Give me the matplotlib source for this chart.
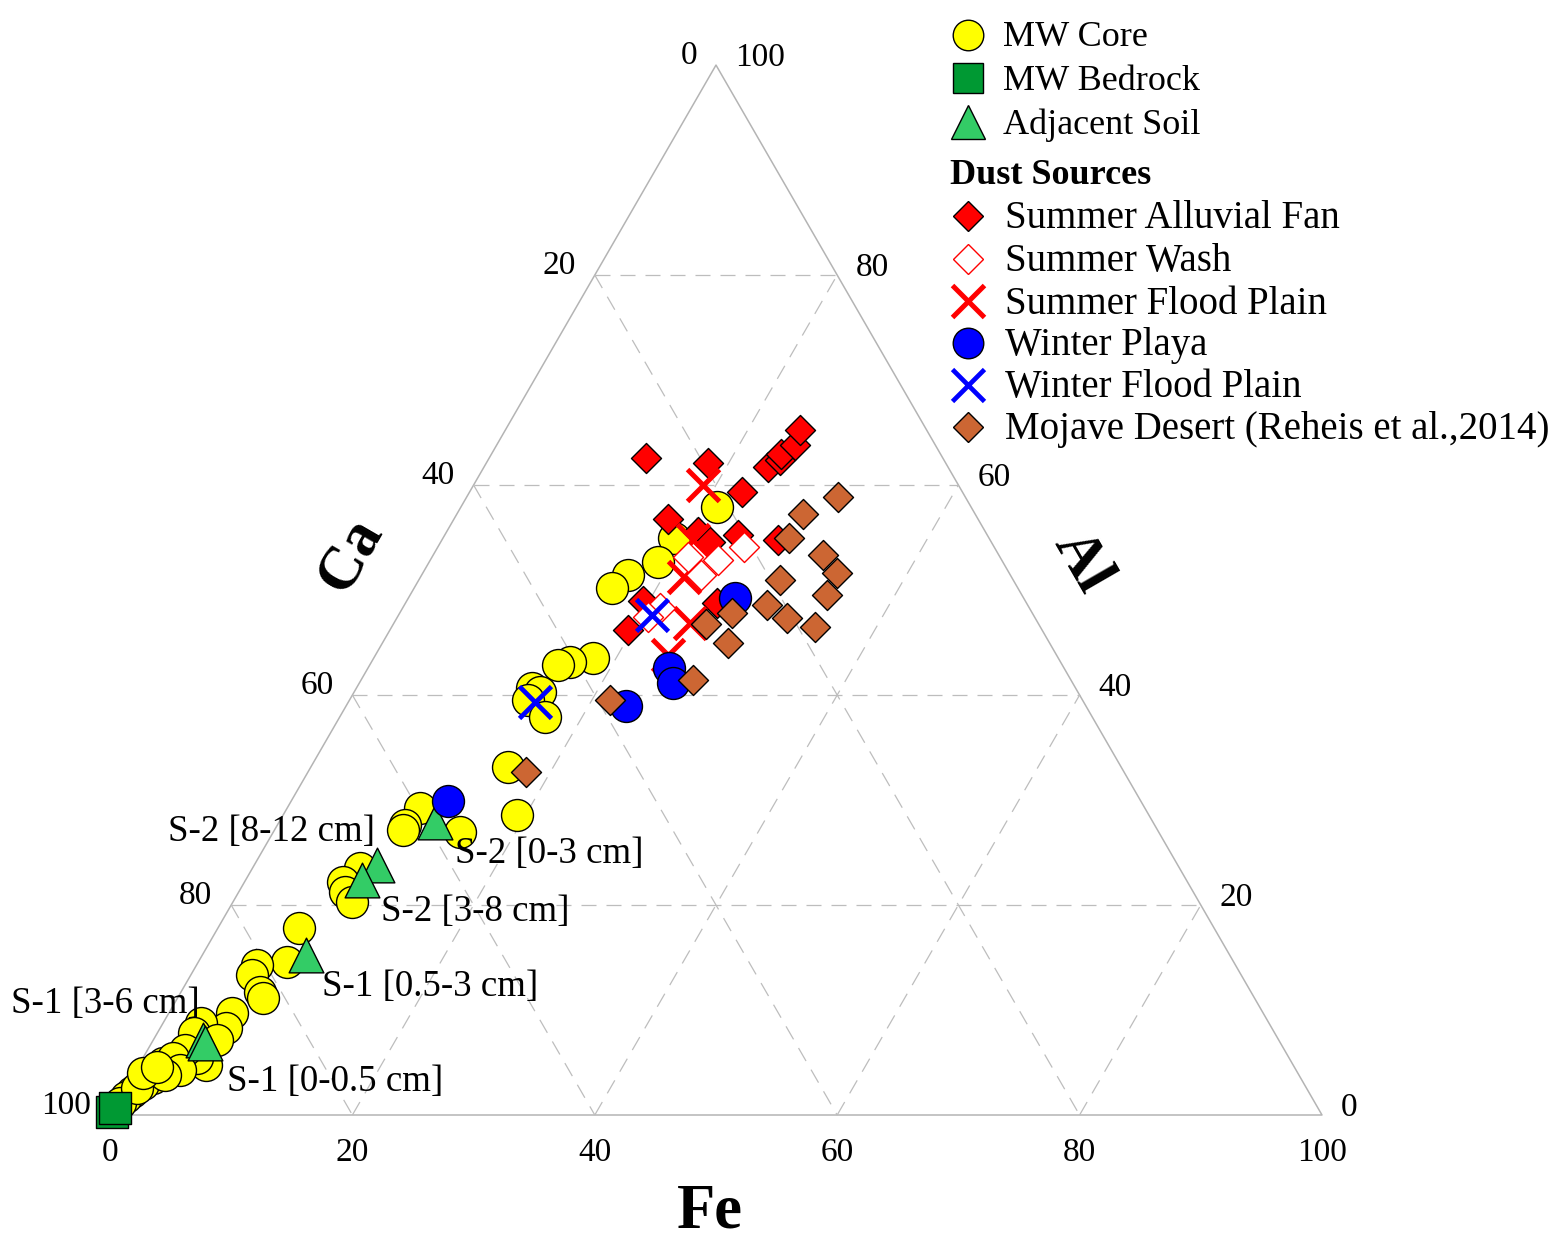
import numpy as np
import matplotlib
matplotlib.use("Agg")
import matplotlib.pyplot as plt

plt.rcParams['font.family'] = ['Liberation Serif', 'DejaVu Serif']

# ---------------- data (Fe, Ca, Al in %) ----------------
core_fe = [21.1, 19.0, 18.9, 17.0, 16.3, 18.1, 16.4, 15.5, 14.5, 15.3, 14.7, 16.9, 16.3, 19.3,
           11.0, 10.5, 10.6, 15.4, 8.9, 8.1, 8.8, 9.8, 6.7, 7.3, 5.0, 5.1, 6.5, 7.1, 5.2, 5.4,
           3.1, 3.0, 5.5, 4.5, 3.1, 1.9, 2.5, 1.8, 1.2, 0.7, 0.5, 5.3, 3.6, 2.6, 0.3, 0.9, 0.7, 1.6]
core_al = [57.9, 55.0, 52.7, 51.4, 50.2, 43.5, 43.1, 42.9, 40.7, 40.3, 39.5, 37.9, 33.1, 28.6,
           29.2, 27.6, 27.1, 27.0, 23.5, 22.2, 21.2, 20.3, 17.8, 14.6, 14.3, 13.3, 11.7, 11.1, 9.7, 8.3,
           8.8, 7.8, 4.8, 5.4, 6.2, 5.0, 5.4, 3.5, 3.0, 2.2, 1.7, 7.1, 4.3, 3.8, 1.1, 2.6, 4.0, 4.6]
core_ca = [21.0, 26.0, 28.4, 31.6, 33.5, 38.4, 40.5, 41.6, 44.8, 44.4, 45.8, 45.2, 50.6, 52.1,
           59.8, 61.9, 62.3, 57.6, 67.6, 69.7, 70.0, 69.9, 75.5, 78.1, 80.7, 81.6, 81.8, 81.8, 85.1, 86.3,
           88.1, 89.2, 89.7, 90.1, 90.7, 93.1, 92.1, 94.7, 95.8, 97.1, 97.8, 87.6, 92.1, 93.6, 98.6, 96.5, 95.3, 93.8]

bedrock_fe = [0.0, 0.1]
bedrock_al = [0.3, 0.7]
bedrock_ca = [99.7, 99.2]

soil_fe = [12.9, 10.1, 9.6, 8.6, 4.1, 4.4]
soil_al = [27.9, 23.8, 22.4, 15.2, 7.1, 6.9]
soil_ca = [59.2, 66.1, 68.0, 76.2, 88.8, 88.7]

fan_fe = [12.9, 18.3, 22.5, 17.6, 23.4, 24.1, 23.9, 24.6, 24.3, 20.8, 22.2, 24.2, 27.7, 19.5, 19.6, 25.7]
fan_al = [62.6, 62.1, 59.3, 56.8, 61.7, 62.4, 63.0, 63.8, 65.2, 55.5, 54.6, 55.2, 54.8, 49.0, 46.2, 48.8]
fan_ca = [24.5, 19.6, 18.2, 25.6, 14.9, 13.5, 13.1, 11.6, 10.5, 23.7, 23.2, 20.6, 17.5, 31.5, 34.2, 25.5]

wash_fe = [25.3, 23.7, 23.1, 21.1, 21.2, 20.7]
wash_al = [54.1, 52.9, 51.4, 53.1, 48.3, 47.4]
wash_ca = [20.6, 23.4, 25.5, 25.8, 30.5, 31.9]

sflood_fe = [18.9, 21.8, 20.7, 24.1, 24.4]
sflood_al = [60.0, 51.2, 54.8, 43.8, 46.9]
sflood_ca = [21.1, 27.0, 24.5, 32.1, 28.7]

playa_fe = [27.0, 24.8, 25.9, 23.1, 12.9]
playa_al = [49.2, 42.6, 41.1, 39.0, 29.9]
playa_ca = [23.8, 32.6, 33.0, 37.9, 57.2]

wflood_fe = [20.9, 15.4]
wflood_al = [47.6, 39.3]
wflood_ca = [31.5, 45.3]

mojave_fe = [30.6, 28.6, 28.5, 29.8, 32.2, 34.2, 34.4, 29.9, 32.2, 34.9, 27.4, 25.8, 28.5, 27.4, 21.5, 18.0]
mojave_al = [58.9, 57.2, 55.0, 51.0, 53.3, 51.6, 49.5, 48.6, 47.3, 46.5, 47.8, 46.8, 45.0, 41.4, 39.5, 32.7]
mojave_ca = [10.5, 14.2, 16.5, 19.2, 14.5, 14.2, 16.1, 21.5, 20.5, 18.6, 24.8, 27.4, 26.5, 31.2, 39.0, 49.3]

ticks = [0, 20, 40, 60, 80, 100]

annot_text = ["S-2 [8-12 cm]", "S-2 [0-3 cm]", "S-2 [3-8 cm]",
              "S-1 [0.5-3 cm]", "S-1 [3-6 cm]", "S-1 [0-0.5 cm]"]

# ---------------- helpers ----------------
S3 = np.sqrt(3) / 2


def tern(fe, ca, al):
    fe = np.asarray(fe, float); ca = np.asarray(ca, float); al = np.asarray(al, float)
    tot = fe + ca + al
    fe = 100 * fe / tot
    al = 100 * al / tot
    return fe + al / 2, al * S3


fig = plt.figure(figsize=(15.65, 12.33), dpi=100)
ax = fig.add_axes([0, 0, 1, 1])
ax.set_xlim(-9.076, 120.05)
ax.set_ylim(-9.733, 91.97)
ax.axis('off')

# overlay axes in pixel coordinates for texts/legend
tx = fig.add_axes([0, 0, 1, 1], zorder=5)
tx.set_xlim(0, 1565)
tx.set_ylim(1233, 0)
tx.axis('off')
tx.patch.set_alpha(0)

grid_c = '#bdbdbd'
# triangle border
bx, by = tern([0, 100, 0, 0], [100, 0, 0, 100], [0, 0, 100, 0])
ax.plot(bx, by, color='#b4b4b4', lw=1.1, zorder=1)

# dashed grid
for v in [20, 40, 60, 80]:
    x, y = tern([0, 100 - v], [100 - v, 0], [v, v])
    ax.plot(x, y, color=grid_c, lw=0.9, ls=(0, (12, 8)), zorder=1)
    x, y = tern([v, v], [100 - v, 0], [0, 100 - v])
    ax.plot(x, y, color=grid_c, lw=0.9, ls=(0, (12, 8)), zorder=1)
    x, y = tern([0, 100 - v], [v, v], [100 - v, 0])
    ax.plot(x, y, color=grid_c, lw=0.9, ls=(0, (12, 8)), zorder=1)

# tick labels
PX = 12.12  # pixels per unit
tfs = 24
for t in ticks:
    x, y = tern([t], [100 - t], [0])
    ax.text(x[0], y[0] - 38 / PX, str(t), ha='center', va='center', fontsize=tfs)
    x, y = tern([0], [t], [100 - t])
    ax.text(x[0] - 19 / PX, y[0] + 9 / PX, str(t), ha='right', va='center', fontsize=tfs)
    x, y = tern([100 - t], [0], [t])
    ax.text(x[0] + 19 / PX, y[0] + 7 / PX, str(t), ha='left', va='center', fontsize=tfs)

# axis titles
tx.text(710, 1227, 'Fe', ha='center', va='baseline', fontsize=45, fontweight='bold')
tx.text(350, 555, 'Ca', ha='center', va='center', fontsize=44, fontweight='bold', rotation=60)
tx.text(1082, 562, 'Al', ha='center', va='center', fontsize=44, fontweight='bold', rotation=-60)

# ---------------- data points ----------------
ek = dict(edgecolor='black', linewidths=1.0)
x, y = tern(core_fe, core_ca, core_al)
ax.scatter(x, y, s=23 ** 2, marker='o', facecolor='#ffff00', zorder=3, clip_on=False, **ek)
x, y = tern(bedrock_fe, bedrock_ca, bedrock_al)
ax.scatter(x, y, s=23 ** 2, marker='s', facecolor='#009933', zorder=3.1, clip_on=False, **ek)
x, y = tern(soil_fe, soil_ca, soil_al)
ax.scatter(x, y, s=25 ** 2, marker='^', facecolor='#33cc66', zorder=3.2, clip_on=False, **ek)
x, y = tern(fan_fe, fan_ca, fan_al)
ax.scatter(x, y, s=15.3 ** 2, marker='D', facecolor='#ff0000', zorder=3.3, **ek)
x, y = tern(sflood_fe, sflood_ca, sflood_al)
ax.scatter(x, y, s=23 ** 2, marker='x', color='#ff0000', linewidths=3.6, zorder=3.4)
x, y = tern(wash_fe, wash_ca, wash_al)
ax.scatter(x, y, s=15.3 ** 2, marker='D', facecolor='white', edgecolor='#ff0000', linewidths=1.0, zorder=3.5)
x, y = tern(playa_fe, playa_ca, playa_al)
ax.scatter(x, y, s=23 ** 2, marker='o', facecolor='#0000ff', zorder=3.6, **ek)
x, y = tern(wflood_fe, wflood_ca, wflood_al)
ax.scatter(x, y, s=23 ** 2, marker='x', color='#0000ff', linewidths=3.4, zorder=3.7)
x, y = tern(mojave_fe, mojave_ca, mojave_al)
ax.scatter(x, y, s=15.3 ** 2, marker='D', facecolor='#cc6633', zorder=3.8, **ek)

# ---------------- annotations ----------------
afs = 26.6
annot_pos = [(375, 832, 'right'), (455, 854, 'left'), (381, 912, 'left'),
             (322, 987, 'left'), (200, 1004, 'right'), (227, 1082, 'left')]
for txt, (px, py, ha) in zip(annot_text, annot_pos):
    tx.text(px, py, txt, ha=ha, va='center', fontsize=afs, zorder=6)

# ---------------- legend ----------------
mx = 968
leg = [
    ('MW Core', 35, 26, dict(marker='o', ms=22, mfc='#ffff00', mec='black', mew=1.0)),
    ('MW Bedrock', 78, 26, dict(marker='s', ms=21, mfc='#009933', mec='black', mew=1.0)),
    ('Adjacent Soil', 122, 26, dict(marker='^', ms=24, mfc='#33cc66', mec='black', mew=1.0)),
    ('Summer Alluvial Fan', 216, 28, dict(marker='D', ms=15, mfc='#ff0000', mec='black', mew=1.0)),
    ('Summer Wash', 259, 28, dict(marker='D', ms=15, mfc='white', mec='#ff0000', mew=1.0)),
    ('Summer Flood Plain', 301, 28, dict(marker='x', ms=23, mec='#ff0000', mew=3.6)),
    ('Winter Playa', 343, 28, dict(marker='o', ms=22, mfc='#0000ff', mec='black', mew=1.0)),
    ('Winter Flood Plain', 385, 28, dict(marker='x', ms=23, mec='#0000ff', mew=3.4)),
    ('Mojave Desert (Reheis et al.,2014)', 427, 28, dict(marker='D', ms=15, mfc='#cc6633', mec='black', mew=1.0)),
]
for label, ly, fs, mk in leg:
    tx.plot([mx], [ly], ls='none', clip_on=False, **mk)
    x0 = 1003 if ly < 150 else 1005
    tx.text(x0, ly + 3, label, ha='left', va='center', fontsize=fs)
tx.text(950, 176, 'Dust Sources', ha='left', va='center', fontsize=26, fontweight='bold')

fig.savefig('out.png', dpi=100)
